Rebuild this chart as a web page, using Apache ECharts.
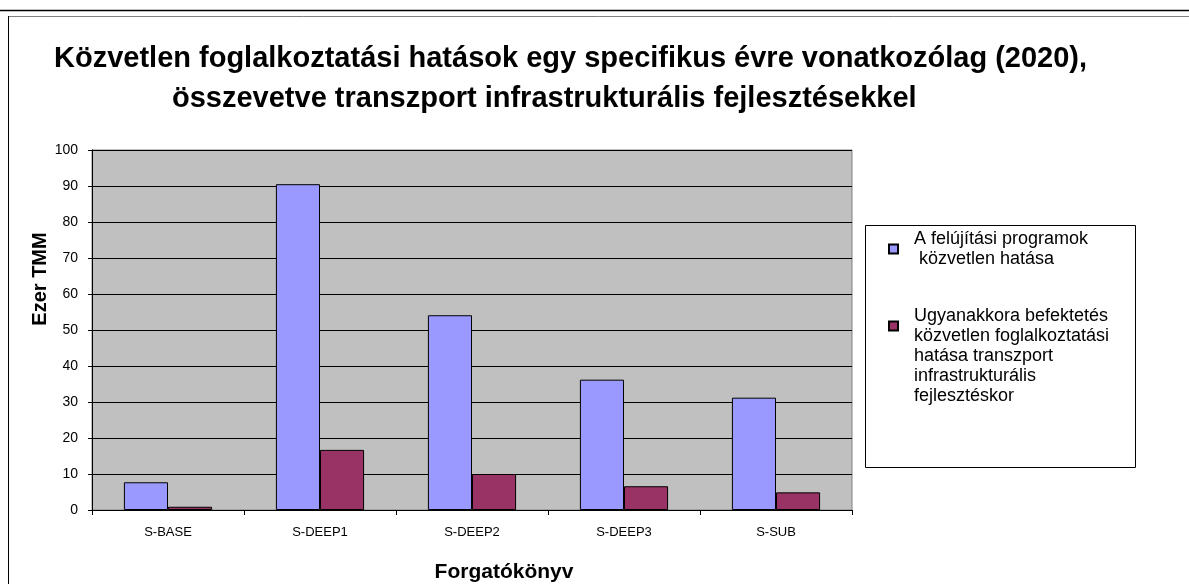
<!DOCTYPE html>
<html>
<head>
<meta charset="utf-8">
<script src="https://cdn.jsdelivr.net/npm/echarts@6/dist/echarts.min.js"></script>
<style>
html,body{margin:0;padding:0;background:#fff;}
#c{width:1189px;height:584px;}
</style>
</head>
<body>
<div id="c"></div>
<script>
const categories = ['S-BASE', 'S-DEEP1', 'S-DEEP2', 'S-DEEP3', 'S-SUB'];
const renovation = [7.7, 90.5, 54.1, 36.2, 31.2];
const transport = [0.9, 16.7, 10.0, 6.6, 4.9];
const seriesNames = [
  'A felújítási programok\n közvetlen hatása',
  'Ugyanakkora befektetés\nközvetlen foglalkoztatási\nhatása transzport\ninfrastrukturális\nfejlesztéskor'
];
const titleLine1 = 'Közvetlen foglalkoztatási hatások egy specifikus évre vonatkozólag (2020),';
const titleLine2 = 'összevetve transzport infrastrukturális fejlesztésekkel';
const yName = 'Ezer TMM';
const xName = 'Forgatókönyv';

const FONT = '"Liberation Sans", Arial, sans-serif';
const chart = echarts.init(document.getElementById('c'), null, {renderer: 'canvas'});
chart.setOption({
  animation: false,
  backgroundColor: '#ffffff',
  textStyle: {fontFamily: FONT},
  title: [
    {text: titleLine1, left: 49, top: 39, textStyle: {fontFamily: FONT, fontSize: 29, fontWeight: 'bold', color: '#000'}},
    {text: titleLine2, left: 167, top: 79, textStyle: {fontFamily: FONT, fontSize: 29, fontWeight: 'bold', color: '#000'}}
  ],
  graphic: [
    {type: 'line', silent: true, shape: {x1: 0, y1: 10.5, x2: 1189, y2: 10.5}, style: {stroke: '#000', lineWidth: 1.5}},
    {type: 'line', silent: true, shape: {x1: 8, y1: 16.5, x2: 1189, y2: 16.5}, style: {stroke: '#808080', lineWidth: 1}},
    {type: 'line', silent: true, shape: {x1: 8.5, y1: 16, x2: 8.5, y2: 584}, style: {stroke: '#000', lineWidth: 1}},
    {type: 'rect', silent: true, z: -1, shape: {x: 865.5, y: 225.5, width: 270, height: 242}, style: {fill: '#fff', stroke: '#000', lineWidth: 1}}
  ],
  legend: [
    {
      data: [seriesNames[0]], orient: 'vertical', left: 883, top: 224,
      itemWidth: 9, itemHeight: 9, icon: 'rect',
      textStyle: {fontFamily: FONT, fontSize: 18, color: '#000', lineHeight: 20, padding: [0, 0, 0, 11]}
    },
    {
      data: [seriesNames[1]], orient: 'vertical', left: 883, top: 241,
      itemWidth: 9, itemHeight: 9, icon: 'rect',
      formatter: function (n) { return '\n\n\n' + n; },
      textStyle: {fontFamily: FONT, fontSize: 18, color: '#000', lineHeight: 20, padding: [0, 0, 0, 11]}
    }
  ],
  grid: {left: 92, right: 337, top: 150, bottom: 74, outerBoundsMode: 'none', containLabel: false,
         show: true, backgroundColor: '#C0C0C0', borderColor: '#808080', borderWidth: 1},
  xAxis: {
    type: 'category', data: categories,
    name: xName, nameLocation: 'middle', nameGap: 52, nameMoveOverlap: false,
    nameTextStyle: {fontFamily: FONT, fontSize: 21, fontWeight: 'bold', color: '#000', padding: [0, 0, 0, 64]},
    axisLine: {lineStyle: {color: '#000', width: 1}},
    axisTick: {show: true, alignWithLabel: false, length: 5, lineStyle: {color: '#000'}},
    axisLabel: {fontFamily: FONT, fontSize: 13, color: '#000', margin: 16}
  },
  yAxis: {
    type: 'value', min: 0, max: 100, interval: 10,
    name: yName, nameLocation: 'middle', nameRotate: 90, nameGap: 42, nameMoveOverlap: false,
    nameTextStyle: {fontFamily: FONT, fontSize: 20, fontWeight: 'bold', color: '#000', padding: [0, 0, 0, 102]},
    axisLine: {show: true, lineStyle: {color: '#000', width: 1}},
    axisTick: {show: true, length: 4, lineStyle: {color: '#000'}},
    axisLabel: {fontFamily: FONT, fontSize: 14, color: '#000', margin: 14},
    splitLine: {show: true, lineStyle: {color: '#000', width: 1}}
  },
  series: [
    {name: seriesNames[0], type: 'bar', data: renovation, barGap: '0%', barCategoryGap: '42%',
     itemStyle: {color: '#9999FF', borderColor: '#000', borderWidth: 1}},
    {name: seriesNames[1], type: 'bar', data: transport,
     itemStyle: {color: '#993366', borderColor: '#000', borderWidth: 1}}
  ]
});
</script>
</body>
</html>
